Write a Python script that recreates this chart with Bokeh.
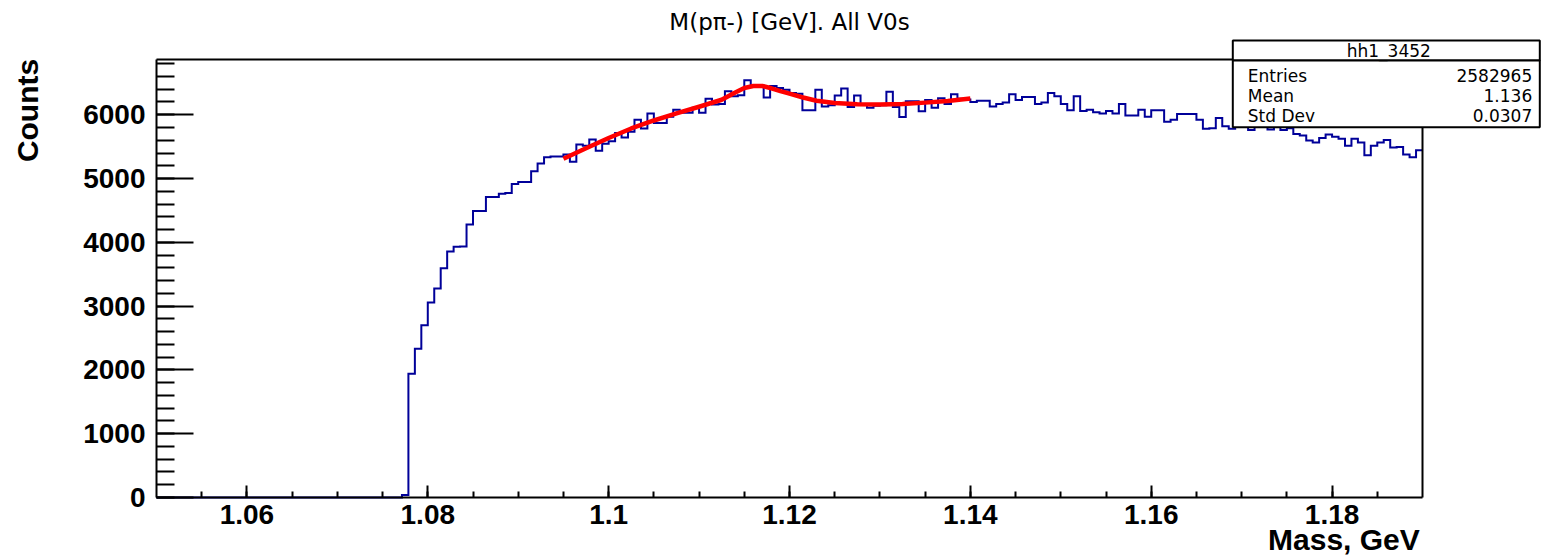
import numpy as np
from bokeh.plotting import figure
from bokeh.models import Range1d, FixedTicker, SingleIntervalTicker, Label, BoxAnnotation
from bokeh.embed import file_html
from bokeh.resources import INLINE

# ---- data ----
title_text = "M(p\u03c0-) [GeV]. All V0s"
x_title = "Mass, GeV"
y_title = "Counts"
stats_name = "hh1_3452"
stats_keys = ["Entries", "Mean", "Std Dev"]
stats_vals = ["2582965", "1.136", "0.0307"]

x_min, x_max = 1.05, 1.19
y_min, y_max = 0, 6866
hist_lo, hist_hi, n_bins = 1.0, 1.2, 280
first_bin = 108  # index of first non-empty bin

counts = [
    40, 1940, 2330, 2700, 3055, 3275, 3595, 3855, 3930, 3935,
    4280, 4490, 4490, 4710, 4710, 4760, 4775, 4915, 4945, 4945,
    5115, 5235, 5335, 5345, 5345, 5375, 5265, 5535, 5515, 5610,
    5435, 5545, 5585, 5715, 5645, 5735, 5920, 5785, 6020, 5870,
    5870, 5970, 6080, 6030, 6030, 6110, 6030, 6250, 6160, 6170,
    6370, 6290, 6305, 6540, 6460, 6460, 6270, 6450, 6420, 6390,
    6340, 6330, 6070, 6070, 6390, 6130, 6150, 6300, 6410, 6120,
    6300, 6170, 6110, 6140, 6150, 6360, 6120, 5965, 6210, 6210,
    6055, 6230, 6110, 6260, 6170, 6320, 6250, 6240, 6200, 6220,
    6220, 6130, 6170, 6190, 6320, 6230, 6280, 6280, 6170, 6190,
    6340, 6290, 6170, 6070, 6290, 6060, 6080, 6040, 6020, 6060,
    6020, 6170, 5990, 5990, 6080, 5970, 6070, 6070, 5890, 5920,
    6010, 6010, 6010, 5920, 5780, 5790, 5950, 5820, 5780, 5850,
    5870, 5760, 5820, 5830, 5770, 5830, 5760, 5790, 5700, 5675,
    5595, 5565, 5635, 5690, 5655, 5625, 5515, 5625, 5565, 5365,
    5515, 5565, 5605, 5485, 5495, 5375, 5335, 5445,
]

fit_x = [1.0950, 1.0975, 1.1000, 1.1025, 1.1050, 1.1075, 1.1100, 1.1125,
         1.1140, 1.1150, 1.1160, 1.1170, 1.1180, 1.1190, 1.1200, 1.1215,
         1.1230, 1.1250, 1.1275, 1.1300, 1.1325, 1.1350, 1.1375, 1.1400]
fit_y = [5310, 5475, 5635, 5785, 5910, 6020, 6125, 6235,
         6350, 6420, 6450, 6450, 6415, 6370, 6330, 6270,
         6220, 6185, 6165, 6160, 6170, 6190, 6215, 6255]

x_major = [1.06, 1.08, 1.1, 1.12, 1.14, 1.16, 1.18]
x_minor = [1.055, 1.06, 1.065, 1.07, 1.075, 1.08, 1.085, 1.09, 1.095, 1.1,
           1.105, 1.11, 1.115, 1.12, 1.125, 1.13, 1.135, 1.14, 1.145, 1.15,
           1.155, 1.16, 1.165, 1.17, 1.175, 1.18, 1.185]

# ---- canvas geometry (pixels) ----
W, H = 1541, 557
frame_left, frame_right, frame_top, frame_bottom = 156, 1422, 59, 497
sx = (frame_right - frame_left) / (x_max - x_min)
sy = (frame_bottom - frame_top) / (y_max - y_min)
view_x = (x_min - frame_left / sx, x_max + (W - frame_right) / sx)
view_y = (y_min - (H - frame_bottom) / sy, y_max + frame_top / sy)


def px(xp):
    return x_min + (xp - frame_left) / sx


def py(yp):
    return y_min + (frame_bottom - yp) / sy


# ---- histogram outline path ----
bw = (hist_hi - hist_lo) / n_bins
edges = hist_lo + bw * (first_bin + np.arange(len(counts) + 1))
hx = [x_min, edges[0]]
hy = [0, 0]
for i, c in enumerate(counts):
    hx += [edges[i], edges[i + 1]]
    hy += [c, c]

p = figure(width=W, height=H, x_range=Range1d(*view_x),
           y_range=Range1d(*view_y), output_backend="svg",
           toolbar_location=None, title=None,
           min_border_left=0, min_border_right=0,
           min_border_top=0, min_border_bottom=0)
p.grid.visible = False
p.outline_line_color = None
p.background_fill_color = "white"
p.border_fill_color = "white"

p.line(hx, hy, line_color="#000099", line_width=2, line_join="miter")
p.line(fit_x, fit_y, line_color="#ff0000", line_width=4.5, line_join="round")
# top and right frame lines
p.line([x_min, x_max, x_max], [y_max, y_max, y_min], line_color="black",
       line_width=2, line_join="miter")

xa = p.xaxis[0]
xa.ticker = FixedTicker(ticks=x_major, minor_ticks=x_minor)
xa.fixed_location = y_min
xa.bounds = (x_min, x_max)
ya = p.yaxis[0]
ya.ticker = SingleIntervalTicker(interval=1000, num_minor_ticks=5)
ya.fixed_location = x_min
ya.bounds = (y_min, y_max)
for ax in (xa, ya):
    ax.axis_line_width = 2
    ax.axis_line_color = "black"
    ax.major_tick_line_width = 2
    ax.minor_tick_line_width = 2
    ax.major_tick_out = 0
    ax.minor_tick_out = 0
    ax.major_label_text_font = "Liberation Sans"
    ax.major_label_text_font_style = "bold"
    ax.major_label_text_font_size = "28px"
    ax.major_label_text_color = "black"
xa.major_tick_in = 12
xa.minor_tick_in = 6
xa.major_label_standoff = 7
ya.major_tick_in = 37
ya.minor_tick_in = 18
ya.major_label_standoff = 11

# plot title and axis titles
p.add_layout(Label(x=(x_min + x_max) / 2, y=py(21.7), text=title_text,
                   text_align="center", text_baseline="middle",
                   text_font="DejaVu Sans", text_font_size="23px",
                   text_color="black"))
p.add_layout(Label(x=px(27), y=py(58.3), text=y_title, angle=np.pi / 2,
                   text_align="right", text_baseline="middle",
                   text_font="Liberation Sans", text_font_style="bold",
                   text_font_size="30px", text_color="black"))
p.add_layout(Label(x=px(1419.3), y=py(538.5), text=x_title, text_align="right",
                   text_baseline="middle", text_font="Liberation Sans",
                   text_font_style="bold", text_font_size="30px",
                   text_color="black"))

# stats box
box_l, box_r = px(1232.3), px(1539.3)
p.add_layout(BoxAnnotation(left=box_l, right=box_r, top=py(40), bottom=py(60),
                           fill_color="white", fill_alpha=1.0,
                           line_color="black", line_width=2, line_alpha=1.0))
p.add_layout(BoxAnnotation(left=box_l, right=box_r, top=py(60), bottom=py(126.7),
                           fill_color="white", fill_alpha=1.0,
                           line_color="black", line_width=2, line_alpha=1.0))
p.add_layout(Label(x=px(1388.3), y=py(50.7), text=stats_name, text_align="center",
                   text_baseline="middle", text_font="DejaVu Sans",
                   text_font_size="17px", text_color="black"))
for k, v, yp in zip(stats_keys, stats_vals, [75, 95, 115]):
    p.add_layout(Label(x=px(1247.3), y=py(yp), text=k, text_align="left",
                       text_baseline="middle", text_font="DejaVu Sans",
                       text_font_size="17px", text_color="black"))
    p.add_layout(Label(x=px(1531.7), y=py(yp), text=v, text_align="right",
                       text_baseline="middle", text_font="DejaVu Sans",
                       text_font_size="17px", text_color="black"))

open("out.html", "w").write(file_html(p, INLINE))
